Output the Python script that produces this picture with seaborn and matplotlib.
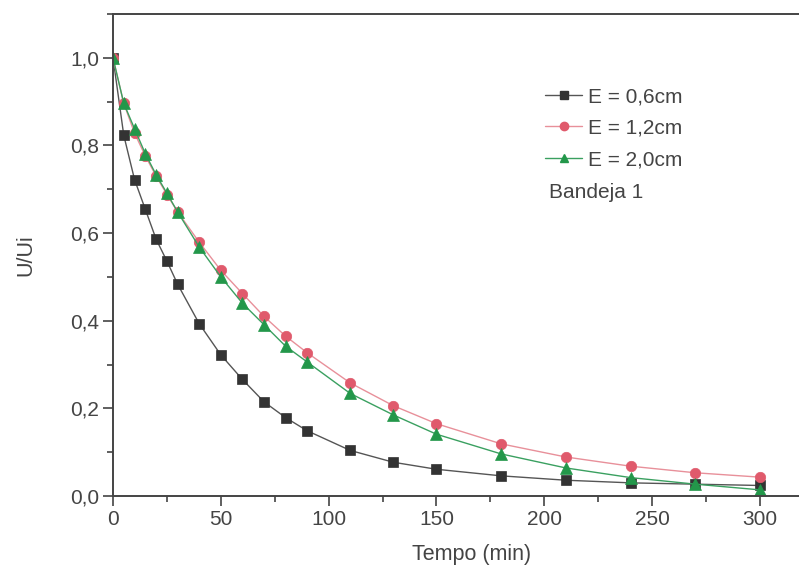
import numpy as np
import pandas as pd
import matplotlib
matplotlib.use("Agg")
import matplotlib.pyplot as plt
import seaborn as sns
from matplotlib.ticker import MultipleLocator, FuncFormatter
from matplotlib.lines import Line2D

tempo = [0, 5, 10, 15, 20, 25, 30, 40, 50, 60, 70, 80, 90, 110, 130, 150, 180, 210, 240, 270, 300]
e06 = [1.0, 0.823, 0.722, 0.654, 0.586, 0.536, 0.483, 0.393, 0.322, 0.266, 0.215, 0.179, 0.149, 0.104,
       0.077, 0.061, 0.046, 0.036, 0.030, 0.027, 0.024]
e12 = [1.0, 0.896, 0.828, 0.776, 0.730, 0.688, 0.648, 0.579, 0.515, 0.462, 0.410, 0.365, 0.327, 0.258,
       0.206, 0.165, 0.119, 0.089, 0.068, 0.053, 0.043]
e20 = [1.0, 0.896, 0.838, 0.781, 0.733, 0.691, 0.648, 0.568, 0.500, 0.440, 0.391, 0.342, 0.306, 0.234,
       0.185, 0.141, 0.096, 0.064, 0.042, 0.027, 0.014]
labels = ["E = 0,6cm", "E = 1,2cm", "E = 2,0cm"]

df = pd.concat([
    pd.DataFrame({"t": tempo, "u": vals, "serie": lab})
    for vals, lab in zip([e06, e12, e20], labels)
])

sns.set_style("ticks")
plt.rcParams["font.family"] = ["Liberation Sans", "DejaVu Sans"]

line_cols = {labels[0]: "#555555", labels[1]: "#e8909a", labels[2]: "#3aa060"}
mark_cols = {labels[0]: "#333333", labels[1]: "#e05a6c", labels[2]: "#23974a"}
markers = {labels[0]: "s", labels[1]: "o", labels[2]: "^"}
msizes = {labels[0]: 6.5, labels[1]: 7.5, labels[2]: 8.0}

fig = plt.figure(figsize=(7.99, 5.73), dpi=100)
W, H = 799, 573
left, right, top, bottom = 113, 830, 14, 496
ax = fig.add_axes([left / W, (H - bottom) / H, (right - left) / W, (bottom - top) / H])

for lab in labels:
    sub = df[df.serie == lab]
    sns.lineplot(data=sub, x="t", y="u", ax=ax, color=line_cols[lab], lw=1.0,
                 marker=markers[lab], markersize=msizes[lab],
                 markerfacecolor=mark_cols[lab], markeredgecolor=mark_cols[lab],
                 markeredgewidth=0.5, legend=False)

xmax = (right - left) / ((760 - 113) / 300)
ax.set_xlim(0, xmax)
ax.set_ylim(0, 1.1)

ax.xaxis.set_major_locator(MultipleLocator(50))
ax.xaxis.set_minor_locator(MultipleLocator(25))
ax.yaxis.set_major_locator(MultipleLocator(0.2))
ax.yaxis.set_minor_locator(MultipleLocator(0.1))
ax.yaxis.set_major_formatter(FuncFormatter(lambda v, p: f"{v:.1f}".replace(".", ",")))
ax.xaxis.set_major_formatter(FuncFormatter(lambda v, p: f"{int(round(v))}"))

for s in ["left", "bottom", "top"]:
    ax.spines[s].set_linewidth(1.4)
    ax.spines[s].set_color("#444444")
ax.spines["right"].set_visible(False)
ax.tick_params(which="major", direction="out", length=7, width=1.2, color="#444444",
               labelsize=15, labelcolor="#444444", pad=3)
ax.tick_params(which="minor", direction="out", length=4, width=1.2, color="#444444")
ax.tick_params(top=False, right=False)

ax.set_xlabel("Tempo (min)", fontsize=15.5, color="#444444", labelpad=11)
ax.set_ylabel("U/Ui", fontsize=15.5, color="#444444", labelpad=24)

handles = [Line2D([], [], color=line_cols[l], lw=1.0, marker=markers[l], markersize=6,
                  markerfacecolor=mark_cols[l], markeredgecolor=mark_cols[l]) for l in labels]
leg = ax.legend(handles, labels, loc="upper left", bbox_to_anchor=(0.603, 0.848),
                frameon=False, fontsize=15, handlelength=1.75, handletextpad=0.3,
                labelspacing=0.6, borderpad=0, borderaxespad=0)
for t in leg.get_texts():
    t.set_color("#444444")
fig.text(549 / W, 1 - 192 / H, "Bandeja 1", fontsize=15, color="#444444",
         va="center", ha="left")

fig.savefig("out.png", dpi=100)
